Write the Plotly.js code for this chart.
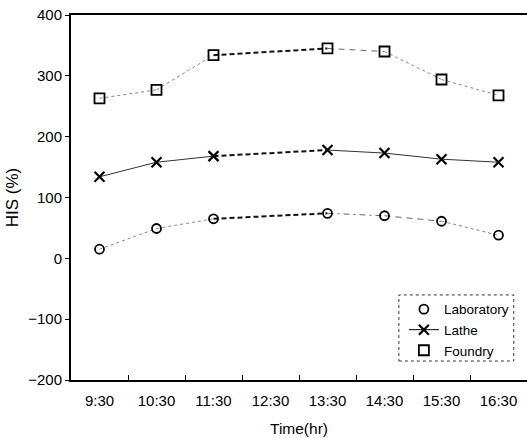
<!DOCTYPE html>
<html>
<head>
<meta charset="utf-8">
<script src="https://cdn.plot.ly/plotly-3.0.1.min.js"></script>
<style>html,body{margin:0;padding:0;background:#fff;}#chart{width:527px;height:438px;}</style>
</head>
<body>
<div id="chart"></div>
<script>
// Category ticks on the x axis
const categories = ['9:30','10:30','11:30','12:30','13:30','14:30','15:30','16:30'];
// Measurement times (no measurement at 12:30)
const times = ['9:30','10:30','11:30','13:30','14:30','15:30','16:30'];
// HIS (%) values
const laboratory = [15, 49, 65, 74, 70, 61, 38];
const lathe      = [134, 158, 168, 178, 173, 163, 158];
const foundry    = [263, 277, 334, 345, 340, 294, 268];
const seriesNames = ['Laboratory', 'Lathe', 'Foundry'];

// Segment line styles (style only, not data)
const styles = {
  dot:   {dash: 'dot', width: 1, color: '#888'},
  solid: {dash: 'solid', width: 1, color: '#333'},
  thick: {dash: '5px,3px', width: 2, color: '#111'},
  dash:  {dash: '6px,5px', width: 1, color: '#666'},
  dashdot: {dash: '6px,4px,2px,4px', width: 1, color: '#666'}
};
const segStyles = {
  Laboratory: ['dot','dot','thick','dashdot','dash','dot'],
  Lathe:      ['solid','solid','thick','solid','solid','solid'],
  Foundry:    ['dot','dot','thick','dash','dot','dot']
};
const markerStyles = {
  Laboratory: {symbol: 'circle-open', size: 9, color: '#000', line: {width: 1.8, color: '#000'}},
  Lathe:      {symbol: 'x-thin-open', size: 10, color: '#000', line: {width: 2.2, color: '#000'}},
  Foundry:    {symbol: 'square-open', size: 10, color: '#000', line: {width: 1.8, color: '#000'}}
};
const legendLine = {Laboratory: 'rgba(0,0,0,0)', Lathe: '#000', Foundry: 'rgba(0,0,0,0)'};

const seriesData = {Laboratory: laboratory, Lathe: lathe, Foundry: foundry};
const traces = [];
seriesNames.forEach(name => {
  const ys = seriesData[name];
  for (let i = 0; i < ys.length - 1; i++) {
    const st = styles[segStyles[name][i]];
    traces.push({
      x: [times[i], times[i+1]], y: [ys[i], ys[i+1]],
      type: 'scatter', mode: 'lines', showlegend: false, hoverinfo: 'skip',
      line: {dash: st.dash, width: st.width, color: st.color}
    });
  }
});
seriesNames.forEach(name => {
  traces.push({
    x: times, y: seriesData[name], type: 'scatter', mode: 'markers',
    name: name, showlegend: false, marker: markerStyles[name]
  });
});
seriesNames.forEach((name, k) => {
  traces.push({
    x: [null], y: [null], type: 'scatter', mode: 'lines+markers', name: name,
    legendrank: k + 1, showlegend: true,
    line: {width: 1, color: legendLine[name]}, marker: markerStyles[name]
  });
});

const fam = '"Liberation Sans", Arial, sans-serif';
const layout = {
  width: 527, height: 438,
  margin: {l: 71, r: 0, t: 15, b: 58},
  paper_bgcolor: '#fff', plot_bgcolor: '#fff',
  font: {family: fam, size: 15, color: '#000'},
  showlegend: true,
  legend: {
    x: 0.73, y: 0.236, xanchor: 'left', yanchor: 'top',
    bgcolor: 'rgba(255,255,255,0)', borderwidth: 0,
    font: {family: fam, size: 13.5, color: '#000'},
    tracegroupgap: 0, traceorder: 'normal'
  },
  xaxis: {
    type: 'category', categoryorder: 'array', categoryarray: categories,
    tickvals: categories, ticktext: categories,
    range: [-0.5, 7.5], tickson: 'boundaries',
    ticks: 'inside', ticklen: 5, tickcolor: '#000', tickwidth: 1,
    showline: true, linecolor: '#000', linewidth: 2, mirror: true,
    showgrid: false, zeroline: false,
    ticklabelstandoff: 6,
    tickfont: {family: fam, size: 15},
    title: {text: 'Time(hr)', font: {family: fam, size: 15.5}, standoff: 15}
  },
  yaxis: {
    range: [-200, 400], tickvals: [-200, -100, 0, 100, 200, 300, 400],
    ticks: 'outside', ticklen: 4, tickcolor: '#000',
    showline: true, linecolor: '#000', linewidth: 2,
    showgrid: false, zeroline: false,
    tickfont: {family: fam, size: 15},
    title: {text: 'HIS (%)', font: {family: fam, size: 17}, standoff: 5}
  },
  shapes: [{
    type: 'rect', xref: 'paper', yref: 'paper',
    x0: 0.719, x1: 0.971, y0: 0.052, y1: 0.233,
    line: {color: '#333', width: 1, dash: 'dot'}
  }]
};
Plotly.newPlot('chart', traces, layout, {staticPlot: true, displayModeBar: false});
</script>
</body>
</html>
